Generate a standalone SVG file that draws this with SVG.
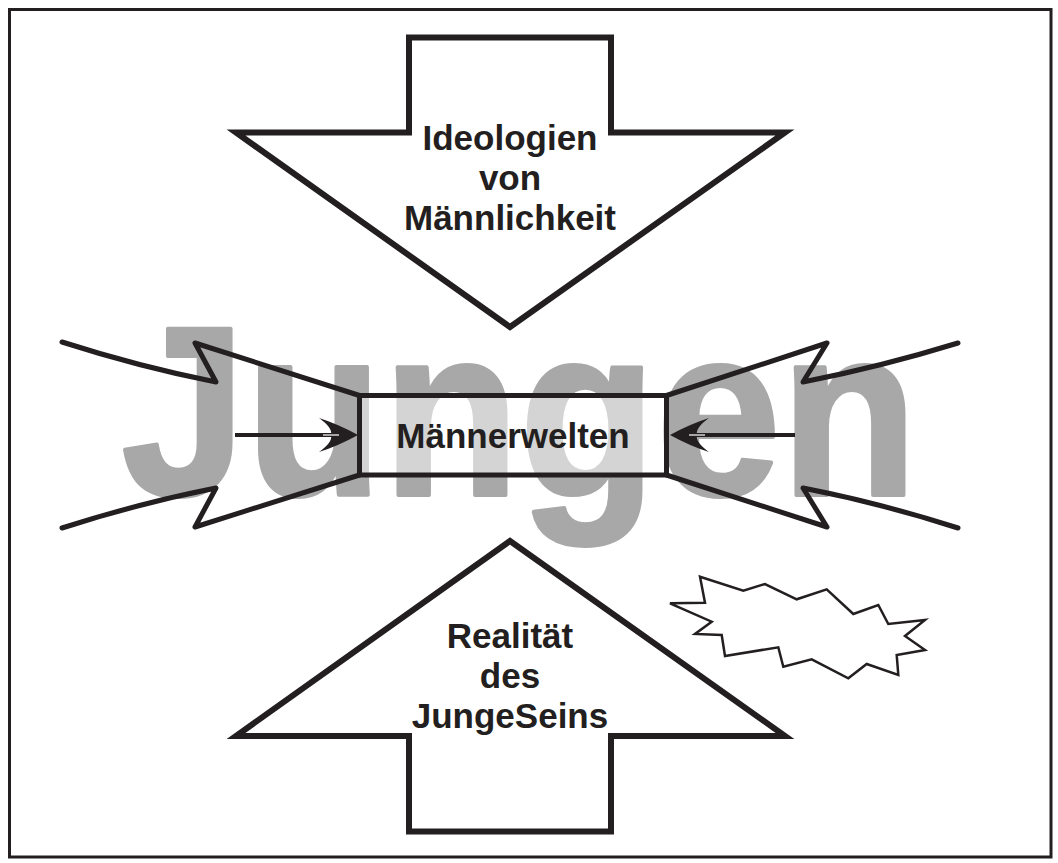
<svg xmlns="http://www.w3.org/2000/svg" width="1058" height="863" viewBox="0 0 1058 863">
<style>
.big{font-family:"Liberation Sans",Arial,sans-serif;font-weight:bold;font-size:242px;fill:#a8a8a8;stroke:#a8a8a8;stroke-width:4;stroke-linejoin:round}
.lbl{font-family:"Liberation Sans",Arial,sans-serif;font-weight:bold;font-size:35px;fill:#231f20;text-anchor:middle}
.arrow{fill:#ffffff;stroke:#231f20;stroke-width:6;stroke-linejoin:miter;stroke-miterlimit:10}
.funnel{fill:none;stroke:#231f20;stroke-width:5;stroke-linejoin:round;stroke-linecap:round}
.shaft{stroke:#231f20;stroke-width:4;fill:none}
.head{fill:#231f20;stroke:none}
</style>
<rect x="0" y="0" width="1058" height="863" fill="#ffffff"/>
<rect id="frame" x="9.5" y="9.5" width="1041.5" height="847.5" fill="none" stroke="#231f20" stroke-width="3"/>
<g id="watermark">
<text class="big" x="121.6" y="495" textLength="796" lengthAdjust="spacingAndGlyphs">Jungen</text>
</g>
<g id="top-arrow">
<polygon class="arrow" points="409,37.5 611,37.5 611,132.5 785,132.5 510,327 236,132.5 409,132.5"/>
<text class="lbl" x="510" y="150">Ideologien</text>
<text class="lbl" x="510" y="190">von</text>
<text class="lbl" x="510" y="230">Männlichkeit</text>
</g>
<g id="bottom-arrow">
<polygon class="arrow" points="409,831.5 611,831.5 611,736 785,736 510,541 236,736 409,736"/>
<text class="lbl" x="510" y="648">Realität</text>
<text class="lbl" x="510" y="688">des</text>
<text class="lbl" x="510" y="728">JungeSeins</text>
</g>
<g id="center">
<rect x="359.5" y="395.5" width="307" height="79.5" fill="#ffffff" fill-opacity="0.5" stroke="#231f20" stroke-width="5"/>
<text class="lbl" x="513" y="448">Männerwelten</text>
</g>
<g id="connectors">
<path class="funnel" d="M62,342 Q140,367 216,382 L195,343 L359.5,395.5"/>
<path class="funnel" d="M62,528 Q140,503 216,488 L195,527 L359.5,475"/>
<path class="funnel" d="M958,343 Q880,367 803,382 L827,343 L666.5,395.5"/>
<path class="funnel" d="M958,528 Q880,503 803,488 L827,527 L666.5,475"/>
<line class="shaft" x1="235" y1="435" x2="335" y2="435"/>
<path class="head" d="M358,435 Q338,424 319,418 Q333,428 331,435 Q333,442 319,452 Q338,446 358,435 Z"/>
<line x1="323" y1="435" x2="339" y2="435" stroke="#ffffff" stroke-width="1.2"/>
<line class="shaft" x1="795" y1="435" x2="693" y2="435"/>
<path class="head" d="M670,435 Q690,424 709,418 Q695,428 697,435 Q695,442 709,452 Q690,446 670,435 Z"/>
<line x1="689" y1="435" x2="705" y2="435" stroke="#ffffff" stroke-width="1.2"/>
</g>
<g id="starburst">
<polygon points="700,576.7 743.3,590.7 765,584 796.7,599.3 826.7,589.3 853.3,614 878.3,605 888.3,624 925,620 905,636 925,650 896.7,655 898.3,675 866.7,664 848.3,678.3 811.7,659.3 783.3,666.7 778.3,647.3 725,656 721.7,635 695,634 711.7,621.7 670,603.3 705,602.7" fill="#ffffff" stroke="#231f20" stroke-width="2.5" stroke-linejoin="miter"/>
</g>
</svg>
